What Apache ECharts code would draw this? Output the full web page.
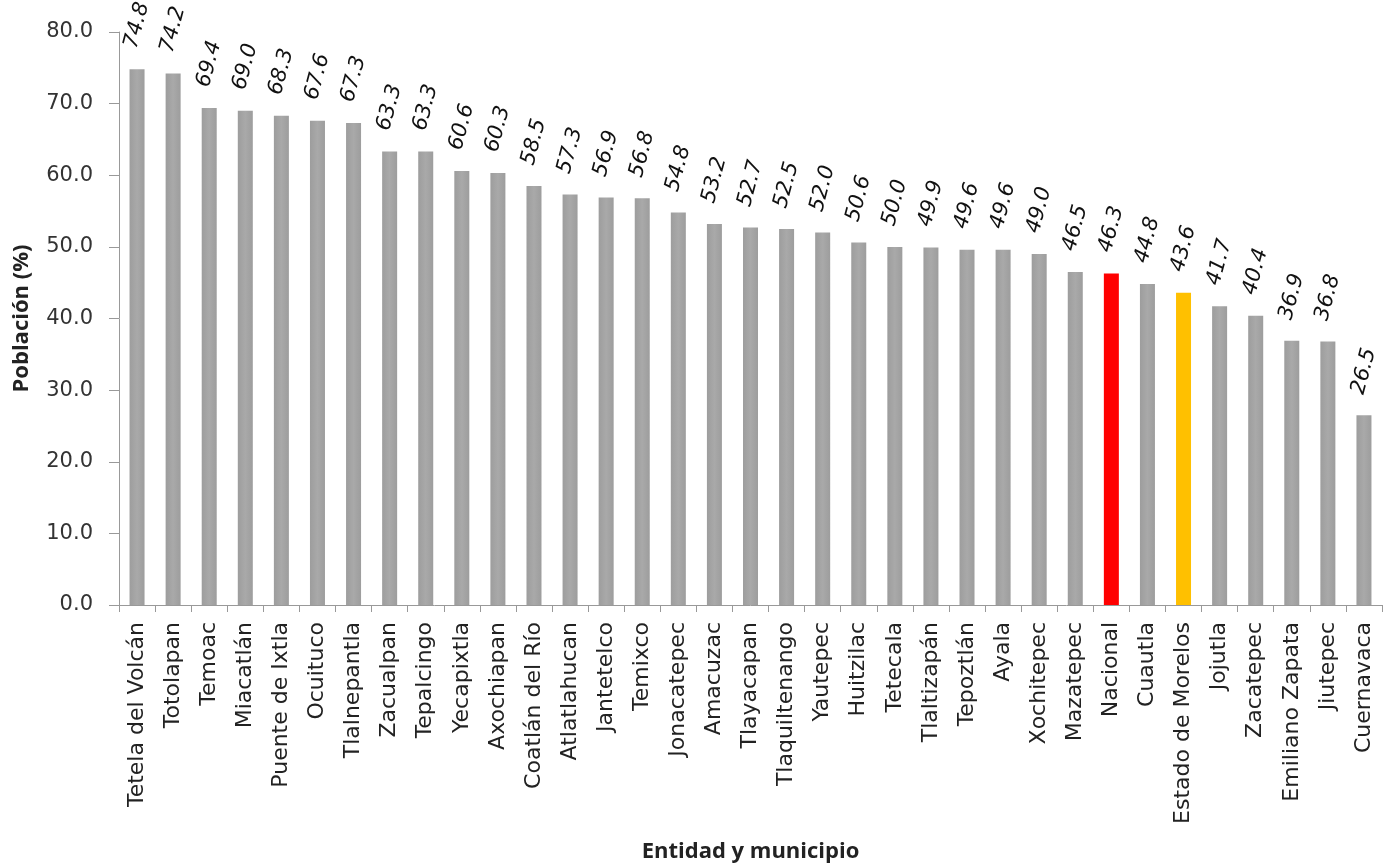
<!DOCTYPE html>
<html><head><meta charset="utf-8">
<script src="https://cdn.jsdelivr.net/npm/echarts@6/dist/echarts.min.js"></script>
<style>html,body{margin:0;padding:0;background:#fff}#c{width:1388px;height:864px}</style>
</head><body><div id="c"></div>
<script>
const categories = ["Tetela del Volcán","Totolapan","Temoac","Miacatlán","Puente de Ixtla","Ocuituco","Tlalnepantla","Zacualpan","Tepalcingo","Yecapixtla","Axochiapan","Coatlán del Río","Atlatlahucan","Jantetelco","Temixco","Jonacatepec","Amacuzac","Tlayacapan","Tlaquiltenango","Yautepec","Huitzilac","Tetecala","Tlaltizapán","Tepoztlán","Ayala","Xochitepec","Mazatepec","Nacional","Cuautla","Estado de Morelos","Jojutla","Zacatepec","Emiliano Zapata","Jiutepec","Cuernavaca"];
const values = [74.8,74.2,69.4,69.0,68.3,67.6,67.3,63.3,63.3,60.6,60.3,58.5,57.3,56.9,56.8,54.8,53.2,52.7,52.5,52.0,50.6,50.0,49.9,49.6,49.6,49.0,46.5,46.3,44.8,43.6,41.7,40.4,36.9,36.8,26.5];
const yTicks = [0,10,20,30,40,50,60,70,80];
const highlight = {"Nacional":"#ff0000","Estado de Morelos":"#ffc000"};

const gray = {type:'linear',x:0,y:0,x2:1,y2:0,colorStops:[{offset:0,color:'#9d9d9d'},{offset:0.5,color:'#a9a9a9'},{offset:1,color:'#9d9d9d'}]};
const chart = echarts.init(document.getElementById('c'));
chart.setOption({
  animation:false,
  grid:{left:119,right:6,top:32,bottom:259,containLabel:false,outerBoundsMode:'none'},
  xAxis:{type:'category',data:categories,
    axisLine:{lineStyle:{color:'#999'}},
    axisTick:{show:true,alignWithLabel:false,length:7,lineStyle:{color:'#999'}},
    axisLabel:{rotate:90,interval:0,fontFamily:'DejaVu Sans',fontSize:22,color:'#222',margin:17},
    name:'Entidad y municipio',nameLocation:'middle',nameGap:236,
    nameTextStyle:{fontFamily:'Open Sans',fontWeight:'bold',fontSize:22,color:'#222'}
  },
  yAxis:{type:'value',min:yTicks[0],max:yTicks[yTicks.length-1],interval:10,
    axisLine:{show:true,lineStyle:{color:'#999'}},
    axisTick:{show:true,length:10,lineStyle:{color:'#999'}},
    splitLine:{show:false},
    axisLabel:{formatter:v=>v.toFixed(1),fontFamily:'DejaVu Sans',fontSize:21,color:'#333',margin:26},
    name:'Población (%)',nameLocation:'middle',nameGap:86,nameRotate:90,
    nameTextStyle:{fontFamily:'Open Sans',fontWeight:'bold',fontSize:22,color:'#222'}
  },
  series:[{type:'bar',barWidth:15,
    data:values.map((v,i)=>({value:v,itemStyle:{color:highlight[categories[i]]||gray}})),
    label:{show:true,position:'top',rotate:75,align:'center',verticalAlign:'middle',distance:44,
      formatter:p=>p.value.toFixed(1),fontFamily:'DejaVu Sans',fontStyle:'italic',fontSize:21,color:'#111'}
  }]
});
</script></body></html>
